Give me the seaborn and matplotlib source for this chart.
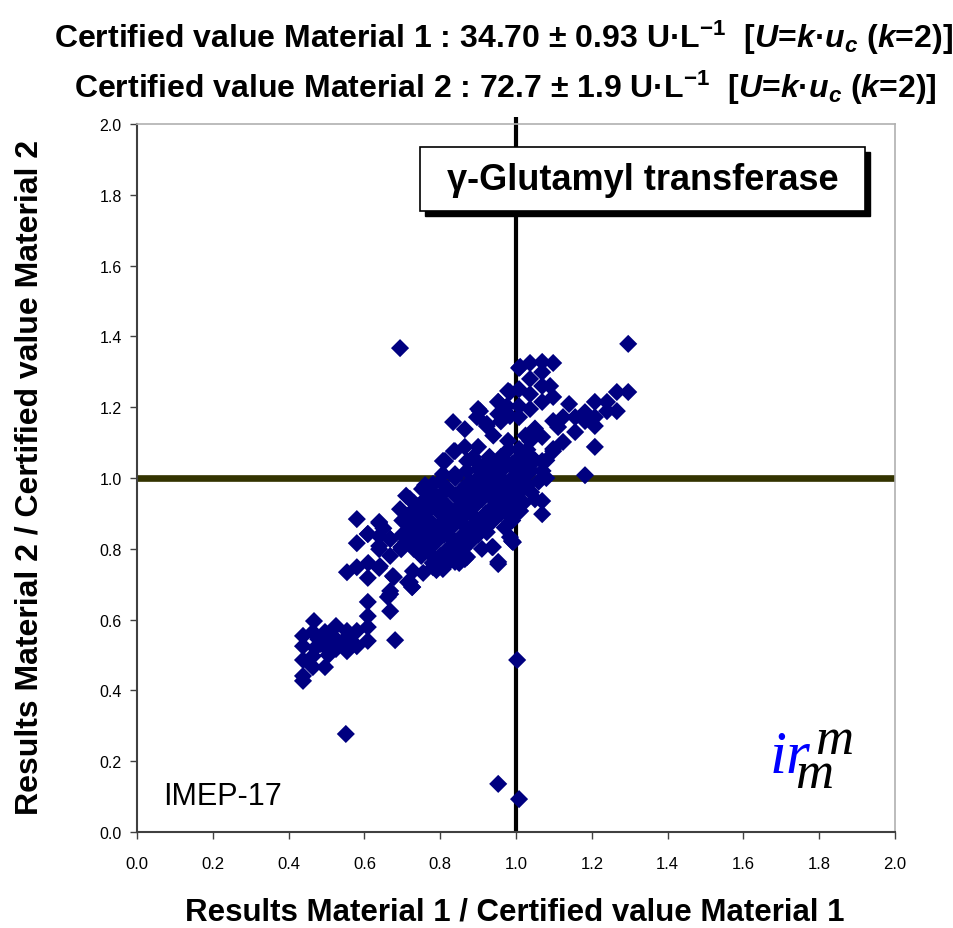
import matplotlib
matplotlib.use("Agg")
import matplotlib.pyplot as plt
import matplotlib.patches as mpatches
import seaborn as sns
import pandas as pd

# ---------------- data (ratios) ----------------
outlier_x = [0.694, 1.296, 0.551, 0.953, 1.008, 1.003, 1.182]
outlier_y = [1.367, 1.379, 0.277, 0.136, 0.093, 0.486, 1.008]

low_x = [0.467, 0.438, 0.438, 0.438, 0.438, 0.438, 0.464, 0.496, 0.525, 0.554,
         0.580, 0.580, 0.609, 0.554, 0.525, 0.496, 0.464, 0.464, 0.496, 0.483,
         0.509, 0.541, 0.681, 0.609, 0.609, 0.609, 0.668, 0.668, 0.726, 0.470,
         0.520, 0.560, 0.505, 0.478]
low_y = [0.596, 0.554, 0.525, 0.486, 0.441, 0.427, 0.565, 0.565, 0.582, 0.568,
         0.568, 0.525, 0.540, 0.511, 0.517, 0.523, 0.497, 0.466, 0.466, 0.531,
         0.540, 0.537, 0.542, 0.579, 0.610, 0.650, 0.624, 0.672, 0.692, 0.520,
         0.550, 0.548, 0.500, 0.545]

mid_x = [0.580, 0.639, 0.609, 0.580, 0.639, 0.668, 0.639, 0.697, 0.554, 0.580,
         0.609, 0.639, 0.678, 0.715, 0.726, 0.668, 0.662, 0.728, 0.755, 0.781,
         0.807, 0.839, 0.865, 0.939, 0.953, 0.984, 0.992, 0.984, 0.923, 0.609,
         0.639, 0.639, 0.668, 0.694, 0.697, 0.720, 0.752, 0.781, 0.807, 0.839,
         0.807, 0.871, 0.900, 0.937, 0.953, 0.989, 0.979, 1.011, 0.675, 0.641,
         0.720, 0.871, 0.668, 0.610, 0.650]
mid_y = [0.884, 0.873, 0.842, 0.816, 0.836, 0.828, 0.799, 0.799, 0.734, 0.748,
         0.718, 0.746, 0.720, 0.706, 0.692, 0.681, 0.664, 0.737, 0.732, 0.748,
         0.743, 0.763, 0.771, 0.805, 0.763, 0.833, 0.819, 0.898, 0.847, 0.842,
         0.876, 0.808, 0.828, 0.912, 0.805, 0.941, 0.969, 0.983, 1.011, 1.011,
         1.048, 1.048, 1.025, 0.805, 0.757, 0.822, 0.898, 0.927, 0.723, 0.751,
         0.706, 0.777, 0.780, 0.760, 0.858]

core_x = [0.70, 0.70, 0.71, 0.72, 0.72, 0.73, 0.73, 0.74, 0.74, 0.75, 0.75, 0.75,
          0.76, 0.76, 0.77, 0.77, 0.77, 0.78, 0.78, 0.78, 0.79, 0.79, 0.80, 0.80,
          0.80, 0.80, 0.81, 0.81, 0.82, 0.82, 0.82, 0.82, 0.83, 0.83, 0.84, 0.84,
          0.84, 0.84, 0.85, 0.85, 0.86, 0.86, 0.86, 0.87, 0.87, 0.87, 0.88, 0.88,
          0.88, 0.89, 0.89, 0.90, 0.90, 0.90, 0.90, 0.91, 0.91, 0.92, 0.92, 0.92,
          0.93, 0.93, 0.94, 0.94, 0.94, 0.95, 0.95, 0.96, 0.96, 0.96, 0.97, 0.97,
          0.98, 0.98, 0.98, 0.99, 0.99, 1.00, 1.00, 1.00, 1.01, 1.01, 1.02, 1.02,
          1.03, 1.03, 1.04, 1.05, 1.04, 0.79, 0.85, 0.91, 0.97, 1.00, 0.76, 0.73,
          0.71, 0.77, 0.83, 0.89, 0.95, 0.81, 0.87, 0.93, 0.99, 1.06, 1.07, 1.05,
          1.08, 1.02, 0.74, 0.78, 0.86, 0.92, 0.97]
core_y = [0.84, 0.88, 0.82, 0.86, 0.90, 0.80, 0.84, 0.88, 0.92, 0.78, 0.82, 0.86,
          0.90, 0.94, 0.80, 0.84, 0.88, 0.76, 0.92, 0.96, 0.82, 0.86, 0.78, 0.90,
          0.94, 0.99, 0.84, 0.88, 0.76, 0.80, 0.92, 0.97, 0.86, 0.90, 0.78, 0.82,
          0.95, 1.00, 0.88, 0.92, 0.80, 0.84, 0.97, 0.90, 0.94, 1.02, 0.82, 0.86,
          0.99, 0.92, 0.96, 0.84, 0.88, 1.00, 1.04, 0.94, 0.98, 0.86, 0.90, 1.02,
          0.95, 0.99, 0.88, 0.92, 1.04, 0.97, 1.01, 0.90, 0.94, 1.06, 0.99, 1.03,
          0.92, 0.96, 1.08, 1.00, 1.04, 0.94, 0.98, 1.02, 1.06, 0.96, 1.00, 1.04,
          0.98, 1.08, 1.02, 1.05, 0.96, 0.74, 0.76, 0.80, 0.86, 0.90, 0.98, 0.93,
          0.95, 0.79, 0.83, 0.89, 0.93, 0.96, 0.98, 1.06, 0.88, 0.99, 1.02, 0.94,
          1.00, 0.93, 0.84, 0.87, 0.87, 0.97, 1.05]

up_x = [1.008, 1.037, 1.069, 1.098, 1.069, 1.037, 1.069, 1.090, 0.984, 1.008,
        1.037, 1.069, 1.098, 0.953, 0.976, 1.008, 1.037, 0.953, 0.984, 1.008,
        0.923, 0.905, 1.140, 1.208, 1.240, 1.266, 1.296, 1.266, 1.240, 1.208,
        1.182, 1.156, 1.124, 1.098, 1.111, 1.156, 1.182, 1.208, 1.208, 1.124,
        1.098, 1.069, 1.037, 1.069, 1.037, 1.008, 1.069, 1.069, 1.011, 0.979,
        0.834, 0.865, 0.900, 0.897, 0.923, 0.953, 0.979, 1.011, 0.865, 0.900,
        0.839, 0.813, 0.887, 0.926, 0.979, 1.098, 0.836, 0.810, 0.839, 1.025,
        1.050, 0.940, 0.960, 1.080]
up_y = [1.311, 1.325, 1.328, 1.325, 1.299, 1.280, 1.260, 1.260, 1.243, 1.251,
        1.237, 1.215, 1.229, 1.215, 1.203, 1.203, 1.195, 1.181, 1.175, 1.172,
        1.153, 1.189, 1.209, 1.215, 1.215, 1.243, 1.243, 1.189, 1.189, 1.172,
        1.186, 1.172, 1.172, 1.161, 1.144, 1.130, 1.161, 1.147, 1.088, 1.102,
        1.082, 1.116, 1.105, 1.048, 1.062, 1.082, 0.935, 0.898, 0.907, 0.898,
        1.158, 1.138, 1.195, 1.172, 1.147, 1.215, 1.246, 1.314, 1.088, 1.088,
        1.076, 1.048, 1.059, 1.048, 1.105, 1.076, 1.076, 1.048, 1.006, 1.120,
        1.140, 1.120, 1.160, 1.050]

x_ticks = [0.0, 0.2, 0.4, 0.6, 0.8, 1.0, 1.2, 1.4, 1.6, 1.8, 2.0]
y_ticks = [0.0, 0.2, 0.4, 0.6, 0.8, 1.0, 1.2, 1.4, 1.6, 1.8, 2.0]

title1 = ("Certified value Material 1 : 34.70 ± 0.93 U·L$^{-1}$  "
          "[$U$=$k$·$u_c$ ($k$=2)]")
title2 = ("Certified value Material 2 : 72.7 ± 1.9 U·L$^{-1}$  "
          "[$U$=$k$·$u_c$ ($k$=2)]")
xlabel = "Results Material 1 / Certified value Material 1"
ylabel = "Results Material 2 / Certified value Material 2"
box_label = "γ-Glutamyl transferase"
study_label = "IMEP-17"

# ---------------- build table ----------------
xs = outlier_x + low_x + mid_x + core_x + up_x
ys = outlier_y + low_y + mid_y + core_y + up_y
df = pd.DataFrame({"m1": xs, "m2": ys})

sns.set_style("white")
plt.rcParams["font.family"] = ["Liberation Sans", "DejaVu Sans"]
plt.rcParams["text.color"] = "black"
plt.rcParams["axes.labelcolor"] = "black"
plt.rcParams["xtick.color"] = "black"
plt.rcParams["ytick.color"] = "black"
plt.rcParams["mathtext.fontset"] = "custom"
plt.rcParams["mathtext.rm"] = "Liberation Sans:bold"
plt.rcParams["mathtext.it"] = "Liberation Sans:bold:italic"
plt.rcParams["mathtext.bf"] = "Liberation Sans:bold"

fig = plt.figure(figsize=(9.54, 9.29), dpi=100)
ax = fig.add_axes([0.1436, 0.1033, 0.9382 - 0.1436, 0.8654 - 0.1033])

# reference lines
ax.axhline(1.0, color="#333300", lw=4.8, zorder=1, solid_capstyle="round")
ax.plot([1.0, 1.0], [0.0, 2.02], color="black", lw=3, zorder=1,
        clip_on=False, solid_capstyle="butt")

sns.scatterplot(data=df, x="m1", y="m2", marker="D", s=85, color="#000080",
                edgecolor="none", linewidth=0, ax=ax, zorder=3, legend=False)

ax.set_xlim(0, 2)
ax.set_ylim(0, 2)
ax.set_xticks(x_ticks)
ax.set_yticks(y_ticks)
ax.set_xticklabels([f"{v:.1f}" for v in x_ticks], fontsize=12)
ax.set_yticklabels([f"{v:.1f}" for v in y_ticks], fontsize=11.5)
ax.tick_params(axis="both", direction="out", length=5, width=1,
               color="#404040", bottom=True, left=True, pad=12)
ax.tick_params(axis="y", pad=6)
for side in ["left", "bottom"]:
    ax.spines[side].set_color("#404040")
    ax.spines[side].set_linewidth(1.5)
for side in ["top", "right"]:
    ax.spines[side].set_color("#b0b0b0")
    ax.spines[side].set_linewidth(1.2)
ax.set_xlabel("")
ax.set_ylabel("")

fig.text(0.540, 0.018, xlabel, ha="center", va="center", fontsize=22.5,
         fontweight="bold")
fig.text(0.031, 0.486, ylabel, ha="center", va="center", rotation=90,
         fontsize=23, fontweight="bold")
fig.text(0.528, 0.959, title1, ha="center", va="center", fontsize=23,
         fontweight="bold")
fig.text(0.530, 0.905, title2, ha="center", va="center", fontsize=23,
         fontweight="bold")

# label box with shadow
shadow = mpatches.Rectangle((0.760, 1.740), 1.174, 0.181, facecolor="black",
                            edgecolor="black", zorder=4)
box = mpatches.Rectangle((0.747, 1.754), 1.174, 0.181, facecolor="white",
                         edgecolor="black", lw=1.2, zorder=5)
ax.add_patch(shadow)
ax.add_patch(box)
ax.text(1.334, 1.843, box_label, ha="center", va="center", fontsize=26,
        fontweight="bold", zorder=6)

ax.text(0.069, 0.079, study_label, ha="left", va="baseline", fontsize=22,
        zorder=6)

# irmm logo
ax.text(1.668, 0.169, "ir", ha="left", va="baseline", fontsize=44,
        family="Liberation Serif", style="italic", color="#0000ff", zorder=6)
ax.text(1.789, 0.222, "m", ha="left", va="baseline", fontsize=38,
        family="Liberation Serif", style="italic", color="black", zorder=6)
ax.text(1.735, 0.127, "m", ha="left", va="baseline", fontsize=38,
        family="Liberation Serif", style="italic", color="black", zorder=6)

fig.savefig("out.png", dpi=100)
